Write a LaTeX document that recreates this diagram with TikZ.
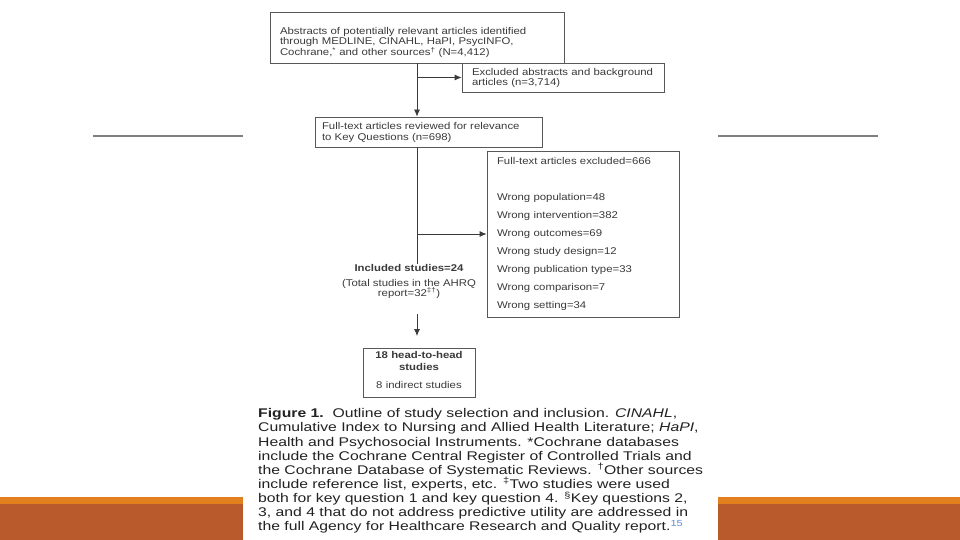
\documentclass[tikz,border=0pt]{standalone}
\usepackage{fontspec}
\setmainfont{Liberation Sans}
\newfontfamily\boxfont[FakeStretch=1.16]{Liberation Sans}
\newfontfamily\capfont[FakeStretch=1.25]{Liberation Sans}
\usetikzlibrary{arrows.meta}
\definecolor{ink}{HTML}{3A3A3A}
\definecolor{capink}{HTML}{222222}
\definecolor{slideline}{HTML}{7F7F7F}
\definecolor{bandlight}{HTML}{E2801F}
\definecolor{banddark}{HTML}{B95A2C}
\definecolor{refblue}{HTML}{5B8FD0}
\begin{document}
\begin{tikzpicture}[x=1pt,y=-1pt,
  box/.style={draw=ink!85, line width=0.8pt, inner ysep=0pt, text=ink},
  conn/.style={draw=ink, line width=0.8pt},
  arr/.style={conn, -{Latex[length=7pt,width=6pt]}}]
\useasboundingbox (0,0) rectangle (960,540);
\fill[white] (0,0) rectangle (960,540);
% slide decoration
\draw[slideline, line width=1.3pt] (93,136) -- (243,136);
\draw[slideline, line width=1.3pt] (718,136) -- (878,136);
\fill[bandlight] (0,497) rectangle (243,504);
\fill[banddark] (0,504) rectangle (243,540);
\fill[bandlight] (718,497) rectangle (960,504);
\fill[banddark] (718,504) rectangle (960,540);
% flowchart boxes
\node[box, font=\boxfont\fontsize{9.8}{10}\selectfont, text width=274pt, inner xsep=10pt, minimum height=51pt, align=left] (b1) at (417,37.5)
  {\rule{0pt}{17pt}Abstracts of potentially relevant articles identified\\
   through MEDLINE, CINAHL, HaPI, PsycINFO,\\
   Cochrane,\textsuperscript{*} and other sources\textsuperscript{†} (N=4,412)};
\node[box, font=\boxfont\fontsize{9.8}{10}\selectfont, text width=182pt, inner xsep=10pt, minimum height=29pt, align=left] (b2) at (563,77.5)
  {Excluded abstracts and background\\ articles (n=3,714)};
\node[box, font=\boxfont\fontsize{9.8}{11}\selectfont, text width=213pt, inner xsep=7pt, minimum height=30pt, align=left] (b3) at (428.5,132)
  {Full-text articles reviewed for relevance\\ to Key Questions (n=698)};
\node[box, font=\boxfont\fontsize{9.8}{18}\selectfont, text width=172pt, inner xsep=10pt, minimum height=166pt, align=left] (b4) at (583,234)
  {Full-text articles excluded=666\\[18pt]
   Wrong population=48\\
   Wrong intervention=382\\
   Wrong outcomes=69\\
   Wrong study design=12\\
   Wrong publication type=33\\
   Wrong comparison=7\\
   Wrong setting=34};
\node[inner sep=0pt, text=ink, align=center, font={\boxfont\fontsize{9.8}{9.5}\selectfont\lineskiplimit-20pt\relax}] (inc) at (409,281.5)
  {\textbf{Included studies=24}\\[5.5pt]
   (Total studies in the AHRQ\\ report=32\textsuperscript{‡†})};
\node[box, font=\boxfont\fontsize{9.8}{12}\selectfont, text width=100pt, inner xsep=6pt, minimum height=49pt, align=center] (b5) at (419,372.5)
  {\textbf{18 head-to-head}\\ \textbf{studies}\\[6pt] 8 indirect studies\rule[-5pt]{0pt}{0pt}};
% connectors
\draw[arr] (b1.south) -- (b1.south |- b3.north);
\draw[arr] (b1.south |- b2.west) -- (b2.west);
\draw[conn] (b1.south |- b3.south) -- (b1.south |- inc.north);
\draw[arr] (b1.south |- b4.west) -- (b4.west);
\coordinate (t3) at (417,314);
\coordinate (h3) at (417,336);
\draw[arr] (t3) -- (h3);
% caption
\node[anchor=north west, inner sep=0pt, align=left, text=capink, font=\capfont\fontsize{12.6}{14.1}\selectfont] (cap) at (258,408.5)
  {\textbf{Figure 1.}\ \ Outline of study selection and inclusion. \textit{CINAHL},\\
   Cumulative Index to Nursing and Allied Health Literature; \textit{HaPI},\\
   Health and Psychosocial Instruments. *Cochrane databases\\
   include the Cochrane Central Register of Controlled Trials and\\
   the Cochrane Database of Systematic Reviews. \textsuperscript{†}Other sources\\
   include reference list, experts, etc. \textsuperscript{‡}Two studies were used\\
   both for key question 1 and key question 4. \textsuperscript{§}Key questions 2,\\
   3, and 4 that do not address predictive utility are addressed in\\
   the full Agency for Healthcare Research and Quality report.\textsuperscript{\textcolor{refblue}{15}}};
\end{tikzpicture}
\end{document}
